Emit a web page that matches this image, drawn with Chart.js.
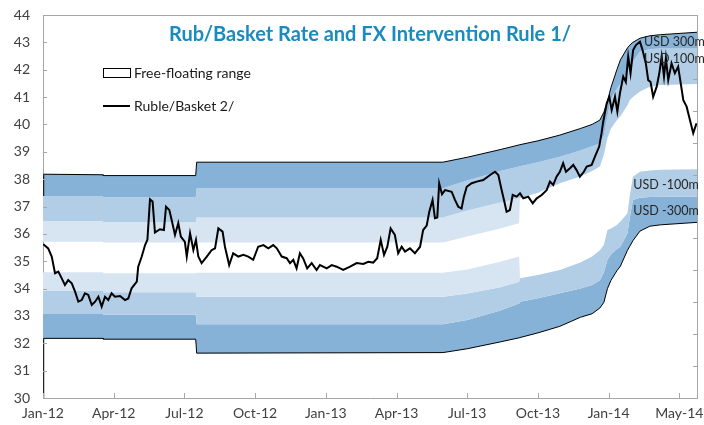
<!DOCTYPE html>
<html>
<head>
<meta charset="utf-8">
<script src="https://cdn.jsdelivr.net/npm/chart.js@4.4.1/dist/chart.umd.min.js"></script>
<style>
  html, body { margin: 0; padding: 0; background: #fff; }
  #wrap { width: 704px; height: 425px; }
</style>
</head>
<body>
<div id="wrap"><canvas id="chart" width="704" height="425"></canvas></div>
<script>
// x values are months counted from Jan-12
const tickMonths = [0, 3, 6, 9, 12, 15, 18, 21, 24, 27];
const tickLabels = ['Jan-12', 'Apr-12', 'Jul-12', 'Oct-12', 'Jan-13', 'Apr-13', 'Jul-13', 'Oct-13', 'Jan-14', 'May-14'];

// band boundaries (intervention bands), same month grid for all of them
const bandMonths = [0, 0.03, 2.55, 2.56, 6.48, 6.52, 16.97, 18.0, 19.4, 20.2, 20.24, 21.0, 21.93, 22.8,
  23.3, 23.63, 23.8, 23.95, 24.1, 24.35, 24.5, 24.8, 24.9, 25.03, 25.33, 25.75, 26.2, 27.75];
const upperEdge = [37.40, 38.18, 38.16, 38.13, 38.13, 38.62, 38.62, 38.80, 39.08, 39.25, 39.26, 39.40, 39.61, 39.85,
  40.00, 40.16, 40.45, 40.85, 41.35, 42.00, 42.36, 42.80, 42.90, 43.00, 43.15, 43.24, 43.28, 43.37];
const upperDarkMid = [37.38, 37.38, 37.38, 37.34, 37.34, 37.67, 37.67, 37.95, 38.30, 38.46, 38.47, 38.62, 38.82, 39.05,
  39.20, 39.31, 39.60, 40.30, 40.95, 41.30, 41.50, 41.95, 42.11, 42.30, 42.66, 42.76, 42.78, 42.78];
const upperMidLight = [36.47, 36.47, 36.47, 36.42, 36.42, 36.60, 36.60, 36.85, 37.15, 37.30, 37.31, 37.50, 37.85, 38.10,
  38.30, 38.46, 38.90, 39.50, 39.85, 40.15, 40.30, 40.70, 40.89, 41.00, 41.20, 41.38, 41.44, 41.48];
const upperLightFree = [35.71, 35.71, 35.71, 35.68, 35.68, 35.68, 35.68, 35.90, 36.20, 36.39, 37.31, 37.50, 37.85, 38.10,
  38.30, 38.46, 38.90, 39.50, 39.85, 40.15, 40.30, 40.70, 40.89, 41.00, 41.20, 41.38, 41.44, 41.48];
const lowerFreeLight = [34.60, 34.60, 34.60, 34.56, 34.56, 34.58, 34.58, 34.70, 34.98, 35.17, 34.38, 34.50, 34.68, 34.95,
  35.17, 35.40, 35.60, 36.14, 36.20, 36.32, 36.45, 36.75, 37.40, 38.09, 38.27, 38.32, 38.34, 38.36];
const lowerLightMid = [33.91, 33.91, 33.91, 33.87, 33.87, 33.70, 33.70, 33.82, 34.05, 34.25, 34.38, 34.50, 34.68, 34.95,
  35.17, 35.40, 35.60, 36.14, 36.20, 36.32, 36.45, 36.75, 37.40, 38.09, 38.27, 38.32, 38.34, 38.36];
const lowerMidDark = [33.07, 33.07, 33.07, 33.04, 33.04, 32.70, 32.70, 32.85, 33.20, 33.45, 33.52, 33.65, 33.83, 34.00,
  34.13, 34.30, 34.60, 35.05, 35.25, 35.45, 35.53, 36.02, 36.60, 37.24, 37.32, 37.35, 37.36, 37.36];
const lowerEdge = [30.00, 32.18, 32.18, 32.15, 32.15, 31.64, 31.66, 31.80, 32.05, 32.20, 32.21, 32.38, 32.62, 32.95,
  33.08, 33.29, 33.50, 34.00, 34.30, 34.65, 34.82, 35.40, 35.55, 35.75, 36.10, 36.28, 36.33, 36.42];

// Ruble/Basket rate
const rubleMonths = [0.01, 0.22, 0.37, 0.51, 0.65, 0.79, 0.93, 1.07, 1.22, 1.36, 1.50, 1.64, 1.78, 1.92, 2.07, 2.21,
  2.35, 2.49, 2.63, 2.77, 2.91, 3.05, 3.27, 3.48, 3.62, 3.76, 3.98, 4.04, 4.19, 4.33, 4.43, 4.54, 4.65, 4.75,
  4.96, 5.13, 5.22, 5.36, 5.46, 5.60, 5.74, 5.85, 6.02, 6.10, 6.24, 6.38, 6.49, 6.59, 6.73, 6.95, 7.16, 7.30,
  7.44, 7.62, 7.72, 7.90, 8.07, 8.29, 8.50, 8.71, 8.92, 9.13, 9.35, 9.56, 9.77, 9.92, 10.13, 10.34, 10.48,
  10.62, 10.76, 10.90, 11.04, 11.21, 11.40, 11.61, 11.75, 12.04, 12.25, 12.46, 12.74, 13.03, 13.31, 13.59,
  13.80, 14.01, 14.18, 14.33, 14.47, 14.61, 14.75, 14.93, 15.07, 15.22, 15.36, 15.57, 15.78, 16.00, 16.13,
  16.28, 16.39, 16.53, 16.63, 16.73, 16.81, 16.93, 17.06, 17.34, 17.48, 17.62, 17.76, 17.86, 17.98, 18.19,
  18.40, 18.68, 18.97, 19.18, 19.32, 19.46, 19.56, 19.67, 19.81, 19.93, 20.10, 20.24, 20.38, 20.59, 20.78,
  20.95, 21.16, 21.37, 21.51, 21.65, 21.79, 21.93, 22.07, 22.19, 22.36, 22.50, 22.64, 22.78, 22.95, 23.07,
  23.28, 23.42, 23.60, 23.70, 23.77, 23.92, 24.03, 24.13, 24.27, 24.37, 24.48, 24.62, 24.73, 24.83, 24.93,
  25.04, 25.16, 25.33, 25.44, 25.58, 25.68, 25.78, 25.89, 26.04, 26.15, 26.25, 26.35, 26.43, 26.53, 26.67,
  26.81, 26.95, 27.06, 27.17, 27.31, 27.45, 27.59, 27.73];
const rubleValues = [35.62, 35.47, 35.17, 34.56, 34.62, 34.38, 34.13, 34.31, 34.19, 33.89, 33.52, 33.58, 33.83, 33.77, 33.40, 33.52,
  33.70, 33.34, 33.70, 33.58, 33.83, 33.70, 33.73, 33.58, 33.64, 34.01, 34.25, 34.80, 35.17, 35.59, 35.78, 37.26, 37.18, 36.05,
  36.17, 36.14, 36.99, 36.87, 36.51, 35.96, 36.39, 35.90, 35.71, 35.17, 36.02, 35.41, 35.78, 35.17, 34.93, 35.17, 35.41, 35.47,
  36.20, 36.08, 35.53, 34.86, 35.29, 35.17, 35.23, 35.17, 35.05, 35.53, 35.59, 35.47, 35.59, 35.47, 35.17, 35.11, 34.93,
  35.05, 34.74, 35.29, 35.10, 34.74, 34.93, 34.68, 34.86, 34.74, 34.86, 34.80, 34.68, 34.80, 34.93, 34.90,
  34.98, 34.95, 35.11, 35.78, 35.23, 35.53, 36.20, 35.96, 35.29, 35.53, 35.35, 35.47, 35.29, 35.53, 36.14,
  36.30, 36.81, 37.24, 36.57, 36.60, 37.85, 37.45, 37.60, 37.54, 37.24, 36.99, 36.93, 37.36, 37.72, 37.85,
  37.91, 37.97, 38.15, 38.27, 38.15, 37.60, 37.24, 36.81, 36.87, 37.42, 37.36, 37.48, 37.30, 37.36, 37.12,
  37.30, 37.42, 37.60, 37.91, 37.79, 38.09, 38.27, 38.58, 38.27, 38.40, 38.52, 38.33, 38.09, 38.27, 38.46,
  38.52, 38.82, 39.19, 39.68, 40.10, 40.77, 41.01, 40.53, 41.01, 40.47, 41.14, 41.75, 41.55, 42.48, 41.87,
  42.72, 42.90, 43.02, 42.72, 42.23, 41.62, 41.55, 41.01, 41.38, 41.87, 42.48, 41.75, 42.42, 41.62, 42.23,
  41.87, 42.11, 41.50, 40.89, 40.65, 40.16, 39.68, 40.04];

// text labels in the bands (month, value)
const bandLabels = [
  { text: 'USD 300m', x: 25.5, y: 43.0 },
  { text: 'USD 100m', x: 25.5, y: 42.4 },
  { text: 'USD -100m', x: 25.05, y: 37.8 },
  { text: 'USD -300m', x: 25.05, y: 36.82 }
];

const darkBlue = '#86B2D8';
const midBlue = '#B2CDE6';
const lightBlue = '#D7E5F2';
const axisColor = '#A6A6A6';
const textColor = '#404040';

function pts(xs, ys) {
  return xs.map((x, i) => ({ x: x, y: ys[i] }));
}

function band(data, fillColor, edge) {
  return {
    data: pts(bandMonths, data),
    borderColor: edge ? '#000' : 'rgba(0,0,0,0)',
    borderWidth: edge ? 1 : 0,
    backgroundColor: fillColor || 'rgba(0,0,0,0)',
    fill: fillColor ? '+1' : false,
    pointRadius: 0,
    tension: 0
  };
}

const decor = {
  id: 'decor',
  afterDraw(chart) {
    const ctx = chart.ctx;
    const a = chart.chartArea;
    const sx = chart.scales.x, sy = chart.scales.y, sy2 = chart.scales.y2;
    ctx.save();
    ctx.strokeStyle = axisColor;
    ctx.lineWidth = 1;
    ctx.beginPath();
    ctx.moveTo(a.left, a.top + 0.5);
    ctx.lineTo(a.right, a.top + 0.5);
    // inside tick marks
    sy.ticks.forEach(t => {
      const y = Math.round(sy.getPixelForValue(t.value)) + 0.5;
      ctx.moveTo(a.left, y); ctx.lineTo(a.left + 4, y);
    });
    sy2.ticks.forEach(t => {
      const y = Math.round(sy2.getPixelForValue(t.value)) + 0.5;
      ctx.moveTo(a.right, y); ctx.lineTo(a.right - 4, y);
    });
    sx.ticks.forEach(t => {
      const x = Math.round(sx.getPixelForValue(t.value)) + 0.5;
      ctx.moveTo(x, a.bottom); ctx.lineTo(x, a.bottom - 5);
    });
    ctx.stroke();

    // title
    ctx.fillStyle = '#1A8BBF';
    ctx.font = 'bold 20px Lato';
    ctx.textAlign = 'center';
    ctx.textBaseline = 'middle';
    ctx.fillText('Rub/Basket Rate and FX Intervention Rule 1/', (a.left + a.right) / 2, a.top + 20);

    // legend
    ctx.strokeStyle = '#000';
    ctx.fillStyle = '#fff';
    ctx.lineWidth = 1;
    ctx.fillRect(a.left + 60.5, a.top + 53.5, 27, 9);
    ctx.strokeRect(a.left + 60.5, a.top + 53.5, 27, 9);
    ctx.lineWidth = 2;
    ctx.beginPath();
    ctx.moveTo(a.left + 60, a.top + 91);
    ctx.lineTo(a.left + 87, a.top + 91);
    ctx.stroke();
    ctx.fillStyle = '#1A1A1A';
    ctx.font = '14px Lato';
    ctx.textAlign = 'left';
    ctx.fillText('Free-floating range', a.left + 91, a.top + 58);
    ctx.fillText('Ruble/Basket 2/', a.left + 91, a.top + 91);

    // band labels
    ctx.font = '12.5px Lato';
    ctx.fillStyle = '#262626';
    bandLabels.forEach(l => {
      ctx.fillText(l.text, sx.getPixelForValue(l.x), sy.getPixelForValue(l.y));
    });
    ctx.restore();
  }
};

new Chart(document.getElementById('chart'), {
  type: 'line',
  data: {
    datasets: [
      band(upperEdge, darkBlue, true),
      band(upperDarkMid, midBlue),
      band(upperMidLight, lightBlue),
      band(upperLightFree, null),
      band(lowerFreeLight, lightBlue),
      band(lowerLightMid, midBlue),
      band(lowerMidDark, darkBlue),
      band(lowerEdge, null, true),
      {
        data: pts(rubleMonths, rubleValues),
        borderColor: '#000',
        borderWidth: 2,
        fill: false,
        pointRadius: 0,
        tension: 0
      }
    ]
  },
  options: {
    responsive: false,
    animation: false,
    devicePixelRatio: 1,
    layout: { padding: { top: 15, left: 0, right: 0, bottom: 0 } },
    plugins: {
      legend: { display: false },
      tooltip: { enabled: false },
      filler: { drawTime: 'beforeDatasetsDraw' }
    },
    scales: {
      x: {
        type: 'linear',
        min: 0,
        max: 27.75,
        afterBuildTicks: s => { s.ticks = tickMonths.map(v => ({ value: v })); },
        afterFit: s => { s.height = 27; },
        // tick marks are drawn by the plugin; tickLength only spaces the labels
        grid: { display: false, drawTicks: true, tickLength: 7 },
        border: { display: true, color: axisColor, width: 1 },
        ticks: {
          autoSkip: false,
          maxRotation: 0,
          padding: 0,
          color: textColor,
          font: { family: 'Lato', size: 14 },
          callback: v => tickLabels[tickMonths.indexOf(v)]
        }
      },
      y: {
        position: 'left',
        min: 30,
        max: 44,
        afterFit: s => { s.width = 43; },
        grid: { display: false, drawTicks: true, tickLength: 13 },
        border: { display: true, color: axisColor, width: 1 },
        ticks: {
          stepSize: 1,
          padding: 0,
          color: textColor,
          font: { family: 'Lato', size: 14 }
        }
      },
      y2: {
        position: 'right',
        min: 0,
        max: 12,
        afterFit: s => { s.width = 7; },
        grid: { display: false, drawTicks: false },
        border: { display: true, color: axisColor, width: 1 },
        ticks: { display: false, stepSize: 1, padding: 0 }
      }
    }
  },
  plugins: [decor]
});
</script>
</body>
</html>
